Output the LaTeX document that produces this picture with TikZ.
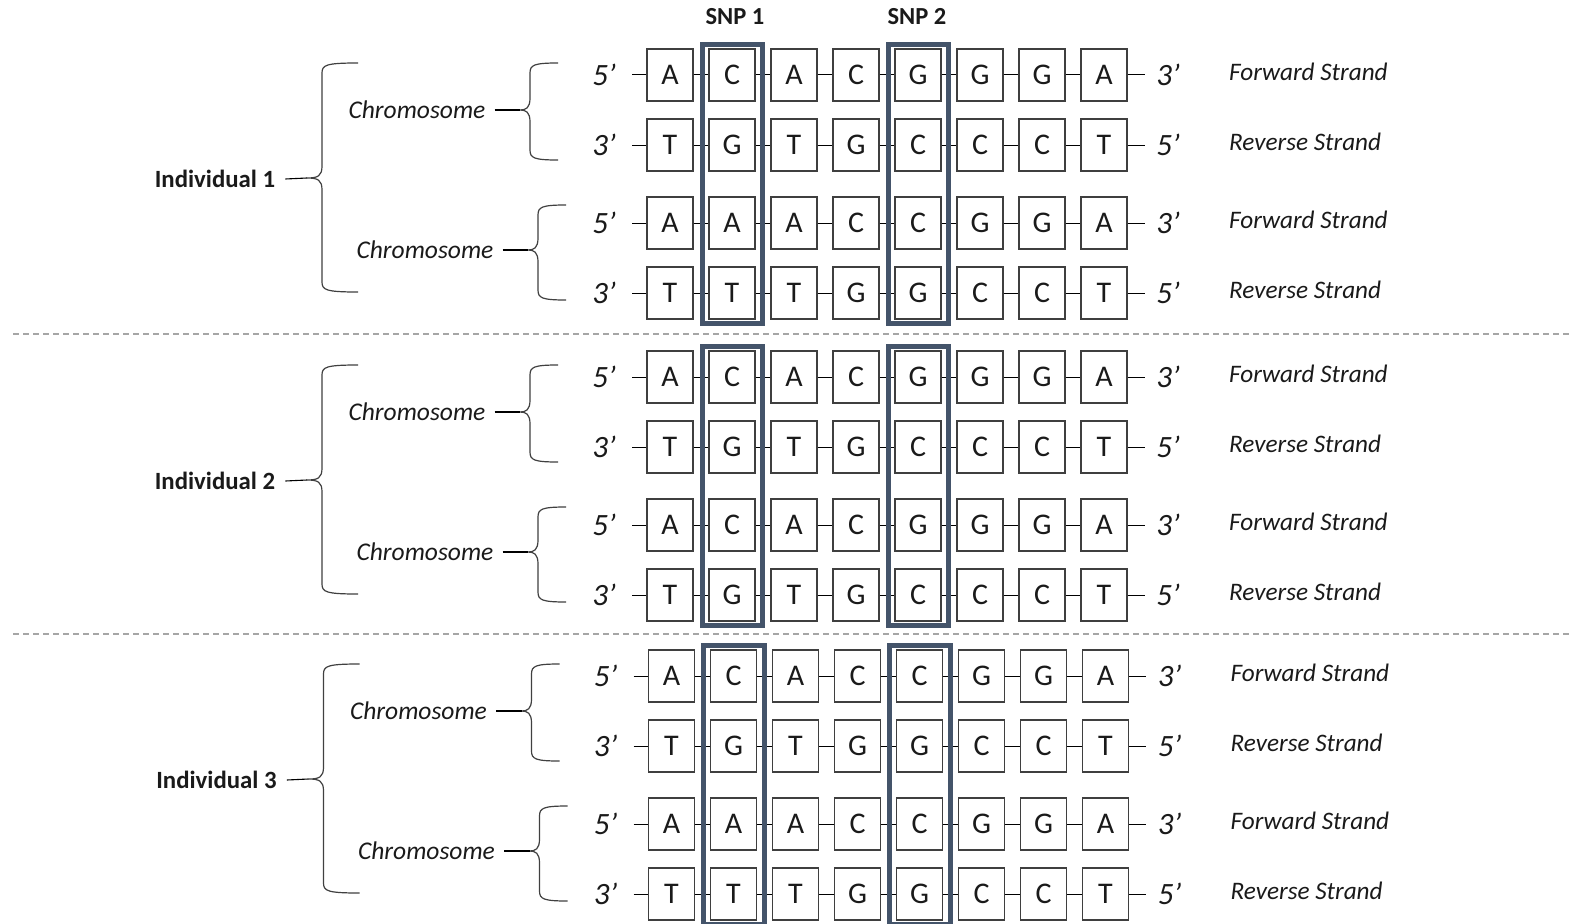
\documentclass[tikz,border=0pt]{standalone}
\usepackage{fontspec}
\setmainfont{Carlito}
\definecolor{boxc}{HTML}{3F3F3F}
\definecolor{snpc}{HTML}{44546A}
\definecolor{txt}{HTML}{1A1A1A}
\definecolor{dashc}{HTML}{A6A6A6}
\definecolor{bracec}{HTML}{404040}
\tikzset{
  base/.style={draw=boxc, line width=1.2pt, minimum width=46pt, minimum height=52pt,
    inner sep=0pt, font=\fontsize{30}{32}\selectfont, text=txt},
  link/.style={draw=black, line width=1pt},
  snpbox/.style={draw=snpc, line width=5pt},
  bracepath/.style={draw=bracec, line width=1.2pt},
  endlab/.style={inner sep=0pt, font=\fontsize{31}{32}\selectfont\itshape, text=txt},
  strandlab/.style={inner sep=0pt, anchor=west, font=\fontsize{25.2}{27}\selectfont\itshape, text=txt},
  chromlab/.style={inner sep=9pt, font=\fontsize{25.5}{27}\selectfont\itshape, text=txt},
  indlab/.style={inner sep=10pt, font=\fontsize{24.8}{26}\selectfont\bfseries, text=txt},
  snplab/.style={inner sep=0pt, font=\fontsize{24.5}{26}\selectfont\bfseries, text=txt},
  dashline/.style={draw=dashc, line width=1.5pt, dash pattern=on 6pt off 4pt}
}
% #1 name, #2 y, #3 letters, #4 left end, #5 right end, #6 strand text
\newcommand\strandrow[6]{%
  \node[endlab, minimum width=56pt] (#1-l) at (604,{#2}) {#4};
  \foreach \L [count=\c] in {#3} {\node[base] (#1-\c) at ({608+62*\c},{#2}) {\L};}
  \foreach \c in {1,...,7} {\pgfmathtruncatemacro\nx{\c+1}\draw[link] (#1-\c) -- (#1-\nx);}
  \node[endlab, minimum width=46pt] (#1-r) at (1168,{#2}) {#5};
  \draw[link] (#1-l) -- (#1-1);
  \draw[link] (#1-8) -- (#1-r);
  \node[strandlab] (#1-s) at (1229,{#2-3}) {#6};
}
% brace: #1 X, #2 top, #3 bottom, #4 middle, #5 tip x, #6 stub x
\newcommand\bracedraw[6]{%
  \draw[bracepath] (#6,{#2}) .. controls ({#1+4},{#2}) and (#1,{#2+2}) .. (#1,{#2+10})
    -- (#1,{#4-12}) .. controls (#1,{#4-2}) and ({#1-4},{#4}) .. (#5,{#4})
    .. controls ({#1-4},{#4}) and (#1,{#4+2}) .. (#1,{#4+12})
    -- (#1,{#3-10}) .. controls (#1,{#3-2}) and ({#1+4},{#3}) .. (#6,{#3});
}
% #1 id, #2 y0, #3-#6 sequences, #7 individual label, #8 xshift
\newcommand\individual[8]{%
  \begin{scope}[xshift=#8]
  \strandrow{#1a}{#2}{#3}{5’}{3’}{Forward Strand}
  \strandrow{#1b}{#2+70}{#4}{3’}{5’}{Reverse Strand}
  \strandrow{#1c}{#2+148}{#5}{5’}{3’}{Forward Strand}
  \strandrow{#1d}{#2+218}{#6}{3’}{5’}{Reverse Strand}
  \draw[snpbox] ([shift={(-6pt,4pt)}]#1a-2.north west) rectangle ([shift={(7pt,-4pt)}]#1d-2.south east);
  \draw[snpbox] ([shift={(-6pt,4pt)}]#1a-5.north west) rectangle ([shift={(7pt,-4pt)}]#1d-5.south east);
  % chromosome 1
  \node[chromlab] (#1-ch1) at (417,{#2+35}) {Chromosome};
  \bracedraw{530}{#2-12}{#2+85}{#2+35}{520}{558}
  \coordinate (#1-t1) at (520,{#2+35});
  \draw[link, line width=1.1pt] (#1-ch1) -- (#1-t1);
  % chromosome 2
  \node[chromlab] (#1-ch2) at (425,{#2+175}) {Chromosome};
  \bracedraw{538}{#2+130}{#2+225}{#2+175}{528}{566}
  \coordinate (#1-t2) at (528,{#2+175});
  \draw[link, line width=1.1pt] (#1-ch2) -- (#1-t2);
  % individual
  \node[indlab] (#1-ind) at (215,{#2+104}) {#7};
  \bracedraw{322}{#2-12}{#2+217}{#2+103}{307}{358}
  \coordinate (#1-ti) at (307,{#2+103});
  \draw[link, line width=1.1pt] (#1-ind.east) -- (#1-ti);
  \end{scope}
}
\begin{document}
\begin{tikzpicture}[x=1pt,y=-1pt]
\useasboundingbox[fill=white] (0,0) rectangle (1570,923);
\individual{p}{75}{A,C,A,C,G,G,G,A}{T,G,T,G,C,C,C,T}{A,A,A,C,C,G,G,A}{T,T,T,G,G,C,C,T}{Individual 1}{0pt}
\individual{q}{377}{A,C,A,C,G,G,G,A}{T,G,T,G,C,C,C,T}{A,C,A,C,G,G,G,A}{T,G,T,G,C,C,C,T}{Individual 2}{0pt}
\individual{r}{676}{A,C,A,C,C,G,G,A}{T,G,T,G,G,C,C,T}{A,A,A,C,C,G,G,A}{T,T,T,G,G,C,C,T}{Individual 3}{1.5pt}
\node[snplab] (snp1) at (735,17) {SNP 1};
\node[snplab] (snp2) at (917,17) {SNP 2};
\draw[dashline] (13,334) -- (1570,334);
\draw[dashline] (13,634) -- (1570,634);
\end{tikzpicture}
\end{document}
